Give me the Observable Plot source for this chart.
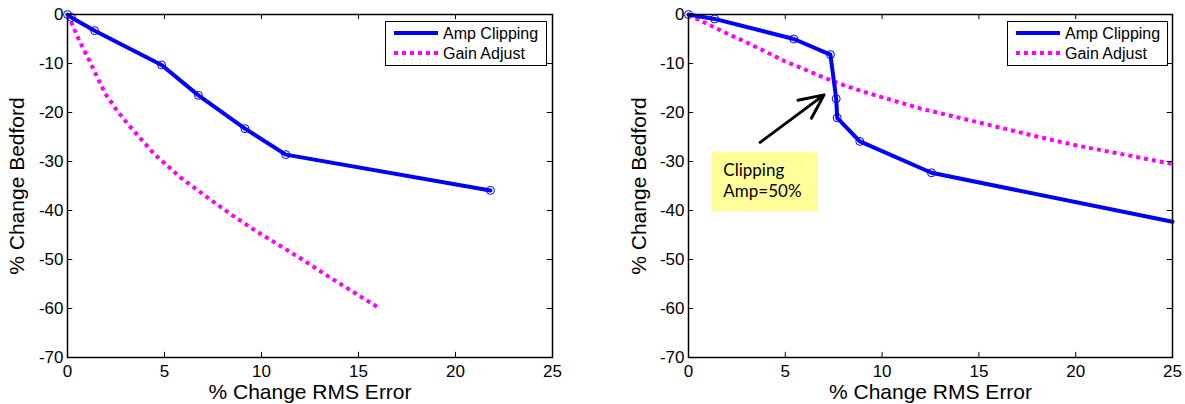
<!DOCTYPE html>
<html>
<head>
<meta charset="utf-8">
<script src="https://cdn.jsdelivr.net/npm/d3@7"></script>
<script src="https://cdn.jsdelivr.net/npm/@observablehq/plot@0.6"></script>
<style>
  html, body { margin: 0; padding: 0; background: white; }
  #wrap { position: relative; width: 1185px; height: 404px; display: flex; }
  .panel { position: relative; height: 404px; }
  .legend { position: absolute; }
</style>
</head>
<body>
<div id="wrap">
  <div id="left" class="panel" style="width:600px"></div>
  <div id="right" class="panel" style="width:585px"></div>
</div>
<script>
// ---- data ----
const xTicks = [0, 5, 10, 15, 20, 25];
const yTicks = [0, -10, -20, -30, -40, -50, -60, -70];
const seriesNames = ["Amp Clipping", "Gain Adjust"];
const xLabel = "% Change RMS Error";
const yLabel = "% Change Bedford";

// left panel
const leftAmpX = [0, 0.2, 1.4, 4.85, 6.75, 9.15, 11.25, 21.8];
const leftAmpY = [0, -0.6, -3.3, -10.3, -16.5, -23.3, -28.6, -35.9];
const leftGainX = [0, 0.15, 0.6, 1.0, 1.45, 1.95, 2.55, 3.1, 4.45, 5.8, 7.2, 8.5, 9.8, 11.0, 12.1, 13.5, 14.8, 16.1];
const leftGainY = [0, -1.2, -5.3, -8.4, -12.1, -16.2, -19.6, -22.3, -28.4, -33.2, -37.3, -41.0, -44.4, -47.3, -50.0, -53.6, -56.8, -60.0];

// right panel
const rightAmpX = [0, 1.35, 5.44, 7.33, 7.63, 7.68, 8.85, 12.55, 25];
const rightAmpY = [0, -0.9, -5.0, -8.2, -17.2, -21.1, -25.9, -32.3, -42.3];
const rightGainX = [0, 0.5, 1, 2, 3, 4, 5, 6, 7, 8, 9, 10, 12, 14, 16, 18, 20, 22, 25];
const rightGainY = [0, -1.0, -2.0, -3.9, -5.7, -7.6, -9.6, -11.2, -12.9, -14.4, -15.7, -16.9, -19.2, -21.1, -23.0, -24.9, -26.7, -28.2, -30.5];

// annotation
const noteLines = ["Clipping", "Amp=50%"];
const noteBox = {x1: 1.2, x2: 6.7, y1: -28.1, y2: -40.3};
const noteText = {x: 1.8, y: [-31.9, -36.1]};
const noteArrow = {x1: 3.7, y1: -26.1, x2: 7.0, y2: -16.4};

const BLUE = "#0000ff", MAGENTA = "#ff00ff";
const FONT = "'Liberation Sans', Arial, sans-serif";
const zip = (xs, ys) => xs.map((x, i) => ({x, y: ys[i]}));

function panel({ampX, ampY, gainX, gainY, width, marginLeft, marginRight, ylabDx, extra = []}) {
  const amp = zip(ampX, ampY);
  const gain = zip(gainX, gainY);
  const tk = 0.27;   // tick length in x units
  const tky = 1.05;  // tick length in y units
  return Plot.plot({
    width, height: 404,
    marginLeft, marginRight, marginTop: 14, marginBottom: 47,
    style: {fontFamily: FONT, fontSize: "17px", color: "black", background: "white", overflow: "visible"},
    x: {domain: [0, 25], axis: null},
    y: {domain: [-70, 0], axis: null},
    marks: [
      ...extra.filter(e => e.under).map(e => e.mark),
      Plot.line(gain, {x: "x", y: "y", stroke: MAGENTA, strokeWidth: 4, strokeDasharray: "4,4", strokeLinecap: "butt"}),
      Plot.line(amp, {x: "x", y: "y", stroke: BLUE, strokeWidth: 4}),
      Plot.dot(amp.filter(d => d.x < 25), {x: "x", y: "y", r: 4, stroke: BLUE, strokeWidth: 1, fill: "none"}),
      ...extra.filter(e => !e.under).map(e => e.mark),
      // inward ticks on all four sides
      Plot.ruleX(xTicks, {x: d => d, y1: -70, y2: -70 + tky, stroke: "black", strokeWidth: 1}),
      Plot.ruleX(xTicks, {x: d => d, y1: 0, y2: -tky, stroke: "black", strokeWidth: 1}),
      Plot.ruleY(yTicks, {y: d => d, x1: 0, x2: tk, stroke: "black", strokeWidth: 1}),
      Plot.ruleY(yTicks, {y: d => d, x1: 25, x2: 25 - tk, stroke: "black", strokeWidth: 1}),
      Plot.frame({stroke: "black", strokeWidth: 1.5}),
      // tick labels
      Plot.text(xTicks, {x: d => d, y: -70, dy: 14, text: d => String(d), fontSize: 17, fontFamily: FONT, lineAnchor: "middle", textAnchor: "middle", fill: "black"}),
      Plot.text(yTicks, {x: 0, y: d => d, dx: -4, text: d => String(d), fontSize: 17, fontFamily: FONT, lineAnchor: "middle", textAnchor: "end", fill: "black"}),
      // axis titles
      Plot.text([xLabel], {frameAnchor: "bottom", dy: 35, text: d => d, fontSize: 21, fontFamily: FONT, lineAnchor: "middle", textAnchor: "middle", fill: "black"}),
      Plot.text([yLabel], {frameAnchor: "left", dx: ylabDx, rotate: -90, text: d => d, fontSize: 21, fontFamily: FONT, lineAnchor: "middle", textAnchor: "middle", fill: "black"})
    ]
  });
}

function legend(container, left, top, w, h) {
  const svg = d3.create("svg").attr("class", "legend").attr("width", w).attr("height", h)
    .style("left", left + "px").style("top", top + "px")
    .style("font-family", FONT).style("font-size", "16px");
  svg.append("rect").attr("x", 0.5).attr("y", 0.5).attr("width", w - 1).attr("height", h - 1)
    .attr("fill", "white").attr("stroke", "black").attr("stroke-width", 1);
  const rows = [
    {name: seriesNames[0], stroke: BLUE, dash: null, cy: 12},
    {name: seriesNames[1], stroke: MAGENTA, dash: "4,4", cy: 32}
  ];
  for (const r of rows) {
    svg.append("line").attr("x1", 9).attr("x2", 53).attr("y1", r.cy).attr("y2", r.cy)
      .attr("stroke", r.stroke).attr("stroke-width", 4).attr("stroke-dasharray", r.dash);
    svg.append("text").attr("x", 58).attr("y", r.cy).attr("dy", "0.35em").text(r.name);
  }
  container.appendChild(svg.node());
}

// left panel
const leftEl = document.getElementById("left");
leftEl.appendChild(panel({
  ampX: leftAmpX, ampY: leftAmpY, gainX: leftGainX, gainY: leftGainY,
  width: 600, marginLeft: 67, marginRight: 48, ylabDx: -50
}));
legend(leftEl, 385, 21, 162, 45);

// right panel
const rightEl = document.getElementById("right");
rightEl.appendChild(panel({
  ampX: rightAmpX, ampY: rightAmpY, gainX: rightGainX, gainY: rightGainY,
  width: 585, marginLeft: 88, marginRight: 13, ylabDx: -49,
  extra: [
    {mark: Plot.rect([noteBox], {x1: "x1", x2: "x2", y1: "y1", y2: "y2", fill: "#ffff99"})},
    {mark: Plot.text(noteLines, {x: noteText.x, y: (d, i) => noteText.y[i], text: d => d, textAnchor: "start", fontFamily: "Lato, 'Open Sans', sans-serif", fontSize: 17, fill: "black"})},
    {mark: Plot.arrow([noteArrow], {x1: "x1", y1: "y1", x2: "x2", y2: "y2", stroke: "black", strokeWidth: 3, headLength: 14, headAngle: 50})}
  ]
}));
legend(rightEl, 407, 21, 161, 45);
</script>
</body>
</html>
